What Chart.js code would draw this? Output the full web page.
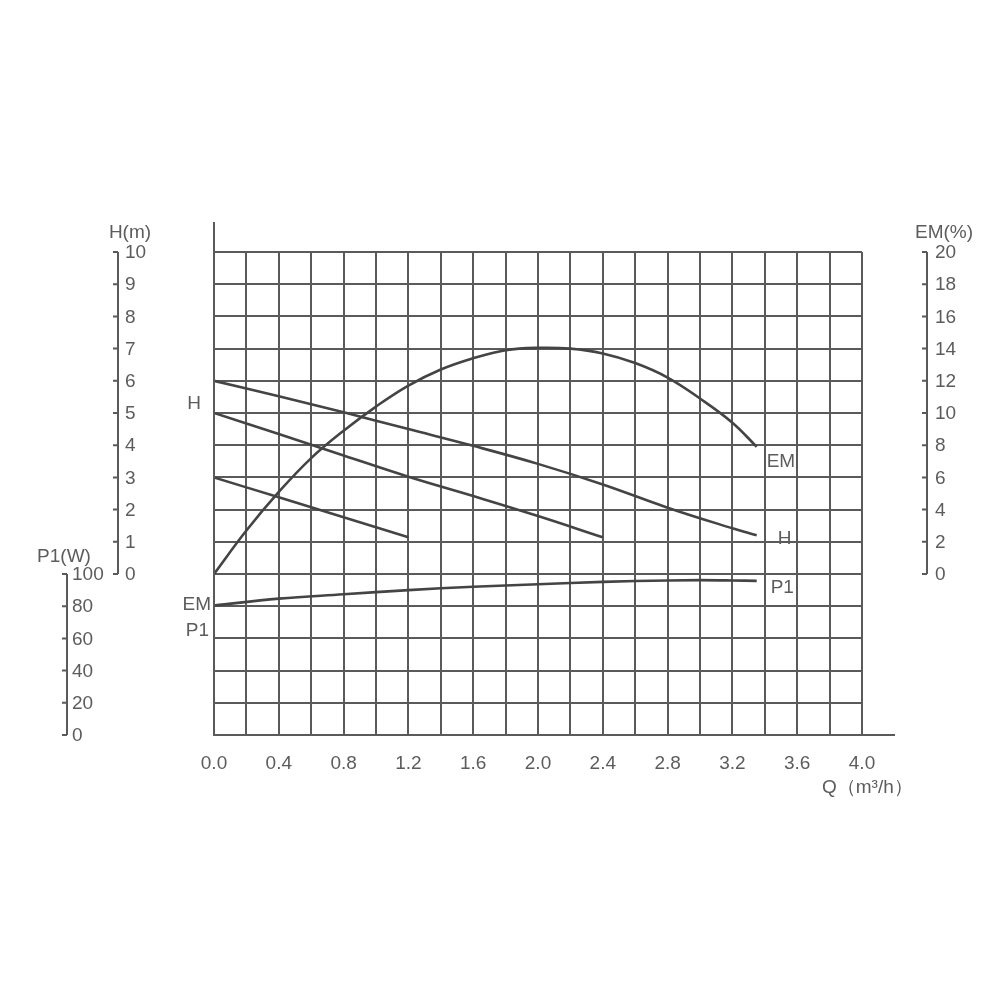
<!DOCTYPE html>
<html>
<head>
<meta charset="utf-8">
<script src="https://cdn.jsdelivr.net/npm/chart.js@4"></script>
<style>
  html, body { margin: 0; padding: 0; background: #fff; }
  #wrap { width: 1000px; height: 1000px; }
</style>
</head>
<body>
<div id="wrap"><canvas id="pumpChart" width="1000" height="1000"></canvas></div>
<script>
// flow values (m3/h) and readings for each curve
const qH1 = [0, 0.4, 0.8, 1.2, 1.6, 2.0, 2.4, 2.8, 3.2, 3.35];
const h1 = [6.0, 5.52, 5.02, 4.5, 3.98, 3.42, 2.78, 2.06, 1.42, 1.2];
const qH2 = [0, 0.4, 0.8, 1.2, 1.6, 2.0, 2.4];
const h2 = [5.0, 4.35, 3.68, 3.02, 2.42, 1.8, 1.14];
const qH3 = [0, 0.4, 0.8, 1.2];
const h3 = [3.0, 2.38, 1.76, 1.14];
const qEM = [0, 0.2, 0.4, 0.6, 0.8, 1.0, 1.2, 1.4, 1.6, 1.8, 2.0, 2.2, 2.4, 2.6, 2.8, 3.0, 3.2, 3.35];
const em = [0, 2.7, 5.1, 7.2, 8.9, 10.4, 11.7, 12.7, 13.4, 13.9, 14.05, 14.0, 13.7, 13.1, 12.2, 10.9, 9.4, 7.9];
const qP1 = [0, 0.4, 0.8, 1.2, 1.6, 2.0, 2.4, 2.8, 3.0, 3.2, 3.35];
const p1 = [80.4, 84.7, 87.4, 90.0, 92.1, 93.6, 95.1, 96.0, 96.2, 96.0, 95.7];

// tick labels
const qTicks = [0, 0.4, 0.8, 1.2, 1.6, 2.0, 2.4, 2.8, 3.2, 3.6, 4.0];
const hTicks = [0, 1, 2, 3, 4, 5, 6, 7, 8, 9, 10];
const emTicks = [0, 2, 4, 6, 8, 10, 12, 14, 16, 18, 20];
const p1Ticks = [0, 20, 40, 60, 80, 100];

const ink = '#444';
const gridInk = '#5a5a5a';
const textInk = '#5c5c5c';
const font = '19px "Liberation Sans", Arial, sans-serif';

function pts(xs, ys) {
  return xs.map((x, i) => ({ x: x, y: ys[i] }));
}

function curve(data, axis) {
  return {
    data: data,
    yAxisID: axis,
    borderColor: ink,
    borderWidth: 2.6,
    pointRadius: 0,
    fill: false,
    tension: 0.4
  };
}

const axesPlugin = {
  id: 'pumpAxes',
  afterDraw(chart) {
    const ctx = chart.ctx;
    const xs = chart.scales.x;
    const ys = chart.scales.y;
    const yem = chart.scales.yEM;
    const yp = chart.scales.yP1;
    ctx.save();
    ctx.strokeStyle = gridInk;
    ctx.lineWidth = 2;

    // main axis lines, a little longer than the grid
    ctx.beginPath();
    ctx.moveTo(xs.left, 222);
    ctx.lineTo(xs.left, ys.bottom);
    ctx.lineTo(895, ys.bottom);
    ctx.stroke();

    ctx.font = font;
    ctx.fillStyle = textInk;

    // side scales
    function sideAxis(scale, ticks, ax, labelX) {
      const top = scale.getPixelForValue(ticks[ticks.length - 1]);
      const bot = scale.getPixelForValue(ticks[0]);
      ctx.beginPath();
      ctx.moveTo(ax, top);
      ctx.lineTo(ax, bot);
      ticks.forEach(t => {
        const py = scale.getPixelForValue(t);
        ctx.moveTo(ax - 5, py);
        ctx.lineTo(ax, py);
      });
      ctx.stroke();
      ctx.textAlign = 'left';
      ctx.textBaseline = 'middle';
      ticks.forEach(t => ctx.fillText(String(t), labelX, scale.getPixelForValue(t) + 1));
    }
    sideAxis(ys, hTicks, 118, 125);
    sideAxis(yp, p1Ticks, 67, 72);
    sideAxis(yem, emTicks, 927, 935);

    ctx.textAlign = 'center';
    ctx.fillText('H(m)', 130, 233);
    ctx.fillText('P1(W)', 64, 557);
    ctx.fillText('EM(%)', 944, 233);

    // flow ticks
    ctx.textBaseline = 'middle';
    qTicks.forEach(q => ctx.fillText(q.toFixed(1), xs.getPixelForValue(q), 764));
    ctx.textAlign = 'left';
    ctx.fillText('Q（m³/h）', 822, 788);

    // curve names
    const lastH = xs.getPixelForValue(qH1[qH1.length - 1]);
    ctx.fillText('EM', lastH + 10, yem.getPixelForValue(em[em.length - 1]) + 15);
    ctx.fillText('H', lastH + 21, ys.getPixelForValue(h1[h1.length - 1]) + 3);
    ctx.fillText('P1', lastH + 14, yp.getPixelForValue(p1[p1.length - 1]) + 7);
    ctx.textAlign = 'right';
    ctx.fillText('H', xs.left - 13, ys.getPixelForValue(5.3));
    ctx.fillText('EM', xs.left - 3, yp.getPixelForValue(p1[0]) - 1);
    ctx.fillText('P1', xs.left - 5, yp.getPixelForValue(p1[0]) + 25);
    ctx.restore();
  }
};

new Chart(document.getElementById('pumpChart').getContext('2d'), {
  type: 'line',
  data: {
    datasets: [
      curve(pts(qH1, h1), 'y'),
      curve(pts(qH2, h2), 'y'),
      curve(pts(qH3, h3), 'y'),
      curve(pts(qEM, em), 'yEM'),
      curve(pts(qP1, p1), 'yP1')
    ]
  },
  options: {
    responsive: false,
    animation: false,
    layout: { padding: { left: 214, right: 138, top: 252, bottom: 265 } },
    plugins: { legend: { display: false }, tooltip: { enabled: false } },
    scales: {
      x: {
        type: 'linear',
        min: 0,
        max: 4,
        ticks: { display: false, stepSize: 0.2 },
        grid: { color: gridInk, lineWidth: 2, drawTicks: false },
        border: { display: false }
      },
      y: {
        min: -5,
        max: 10,
        ticks: { display: false, stepSize: 1 },
        grid: { color: gridInk, lineWidth: 2, drawTicks: false },
        border: { display: false }
      },
      yEM: { display: false, min: -10, max: 20 },
      yP1: { display: false, min: 0, max: 300 }
    }
  },
  plugins: [axesPlugin]
});
</script>
</body>
</html>
